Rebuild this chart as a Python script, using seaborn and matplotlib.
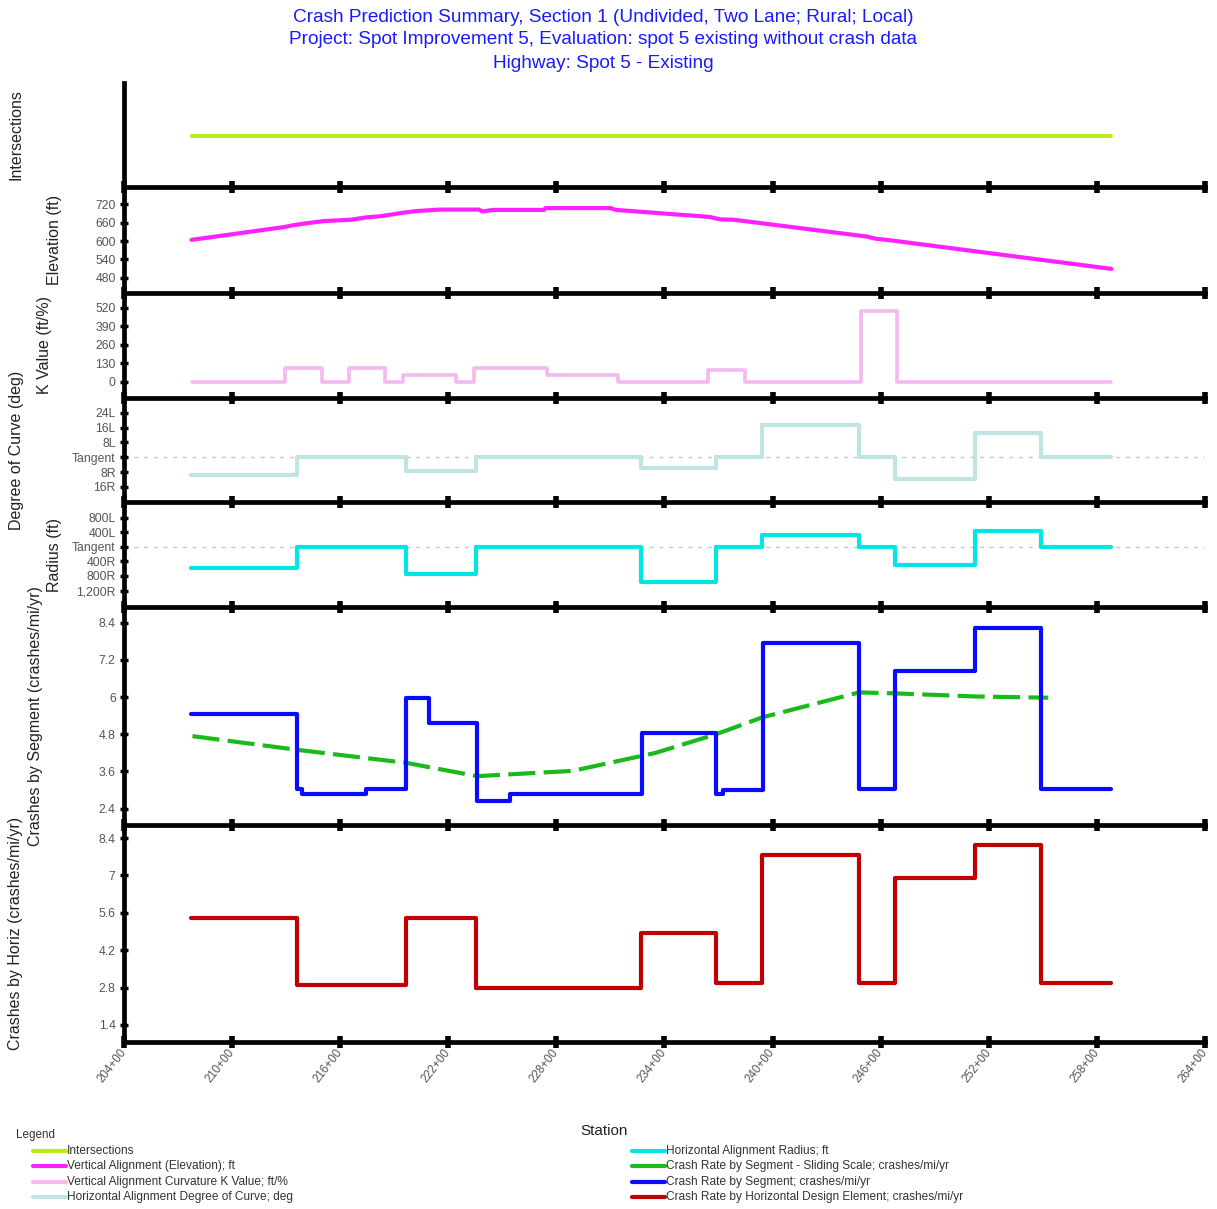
import matplotlib
matplotlib.use("Agg")
import pandas as pd
import seaborn as sns
from matplotlib import pyplot as plt
from matplotlib.lines import Line2D

# data (stations in hundreds of feet)
station_ticks = [204, 210, 216, 222, 228, 234, 240, 246, 252, 258, 264]

inter_sta = [207.75, 258.8]
inter_val = [0, 0]

elev_sta = [207.75, 212.9, 213.4, 214.1, 215.0, 216.6, 217.5, 218.2, 219.5, 220.2,
            221.5, 223.7, 223.9, 224.5, 227.3, 227.4, 231.0, 231.3, 236.5, 237.1,
            237.8, 238.5, 245.2, 245.7, 246.6, 258.8]
elev_val = [604, 646, 652, 658, 665, 670, 678, 681, 693, 698,
            703, 703, 697, 702, 702, 708, 708, 702, 679, 671,
            670, 665, 615, 608, 602, 509]

k_sta = [207.75, 212.93, 215.0, 216.48, 218.48, 219.5, 222.45, 223.43, 227.48,
         231.42, 236.44, 238.48, 244.9, 246.93, 258.8]
k_val = [0, 98, 0, 98, 0, 45, 0, 98, 50, 0, 85, 0, 500, 0]

horiz_sta = [207.7, 213.6, 219.65, 223.55, 232.7, 236.85, 239.4, 244.8, 246.8,
             251.25, 254.9, 258.8]
degree_val = [-9.6, 0, -7.5, 0, -5.9, 0, 17.4, 0, -11.9, 13.3, 0]
radius_val = [-590, 0, -750, 0, -970, 0, 310, 0, -490, 440, 0]
horiz_rate = [5.42, 2.9, 5.42, 2.79, 4.83, 2.98, 7.75, 2.98, 6.89, 8.15, 2.98]

seg_sta = [207.7, 213.6, 213.9, 217.45, 219.65, 220.95, 223.6, 225.45, 232.75,
           236.85, 237.25, 239.45, 244.8, 246.8, 251.25, 254.9, 258.8]
seg_rate = [5.45, 3.02, 2.86, 3.02, 5.96, 5.17, 2.64, 2.86, 4.85,
            2.86, 3.0, 7.76, 3.02, 6.83, 8.22, 3.02]

slide_sta = [207.8, 213.6, 219.65, 223.6, 228.9, 233.5, 236.85, 239.45, 244.8,
             246.8, 251.25, 255.3]
slide_rate = [4.74, 4.3, 3.88, 3.45, 3.62, 4.2, 4.8, 5.35, 6.15, 6.12, 6.02, 5.98]


def steps(sta, vals):
    return pd.DataFrame({"x": sta, "y": list(vals) + [vals[-1]]})


sns.set_style("white")
plt.rcParams["font.family"] = ["Liberation Sans", "DejaVu Sans"]

W, H = 1217, 1209
fig = plt.figure(figsize=(W / 100, H / 100), dpi=100)
gs = fig.add_gridspec(7, 1, height_ratios=[104, 106, 105, 104, 105, 218, 217], hspace=0,
                      left=124 / W, right=1205 / W, top=1 - 83 / H, bottom=1 - 1042 / H)
axes = [fig.add_subplot(gs[i]) for i in range(7)]

LW = 3
line_kw = dict(estimator=None, sort=False, linewidth=LW)

# intersections
sns.lineplot(data=pd.DataFrame({"x": inter_sta, "y": inter_val}), x="x", y="y",
             ax=axes[0], color="#bdea1c", **line_kw)
axes[0].set_ylim(-0.98, 1.02)
axes[0].set_yticks([])

# elevation
sns.lineplot(data=pd.DataFrame({"x": elev_sta, "y": elev_val}), x="x", y="y",
             ax=axes[1], color="#ff20ff", **line_kw)
axes[1].set_ylim(430, 777)
axes[1].set_yticks([480, 540, 600, 660, 720])

# K value
sns.lineplot(data=steps(k_sta, k_val), x="x", y="y", ax=axes[2], color="#f5b9f0",
             drawstyle="steps-post", estimator=None, sort=False, linewidth=2.6)
axes[2].set_ylim(-115, 623)
axes[2].set_yticks([0, 130, 260, 390, 520])

# degree of curve
axes[3].axhline(0, color="#c8c8c8", lw=1, ls=(0, (3, 4)), zorder=0)
sns.lineplot(data=steps(horiz_sta, degree_val), x="x", y="y", ax=axes[3], color="#bfe4e2",
             drawstyle="steps-post", **line_kw)
axes[3].set_ylim(-24.1, 31.9)
axes[3].set_yticks([-16, -8, 0, 8, 16, 24])
axes[3].set_yticklabels(["16R", "8R", "Tangent", "8L", "16L", "24L"])

# radius
axes[4].axhline(0, color="#c8c8c8", lw=1, ls=(0, (3, 4)), zorder=0)
sns.lineplot(data=steps(horiz_sta, radius_val), x="x", y="y", ax=axes[4], color="#00e5e5",
             drawstyle="steps-post", **line_kw)
axes[4].set_ylim(-1652, 1225)
axes[4].set_yticks([-1200, -800, -400, 0, 400, 800])
axes[4].set_yticklabels(["1,200R", "800R", "400R", "Tangent", "400L", "800L"])

# crashes by segment
sns.lineplot(data=pd.DataFrame({"x": slide_sta, "y": slide_rate}), x="x", y="y",
             ax=axes[5], color="#1aba1a", linestyle=(0, (6.5, 2)), **line_kw)
sns.lineplot(data=steps(seg_sta, seg_rate), x="x", y="y", ax=axes[5], color="#0a0aff",
             drawstyle="steps-post", **line_kw)
axes[5].set_ylim(1.874, 8.906)
axes[5].set_yticks([2.4, 3.6, 4.8, 6, 7.2, 8.4])
axes[5].set_yticklabels(["2.4", "3.6", "4.8", "6", "7.2", "8.4"])

# crashes by horizontal element
sns.lineplot(data=steps(horiz_sta, horiz_rate), x="x", y="y", ax=axes[6], color="#c00000",
             drawstyle="steps-post", **line_kw)
axes[6].set_ylim(0.76, 8.89)
axes[6].set_yticks([1.4, 2.8, 4.2, 5.6, 7, 8.4])
axes[6].set_yticklabels(["1.4", "2.8", "4.2", "5.6", "7", "8.4"])

ylabels = ["Intersections", "Elevation (ft)", "K Value (ft/%)", "Degree of Curve (deg)",
           "Radius (ft)", "Crashes by Segment (crashes/mi/yr)", "Crashes by Horiz (crashes/mi/yr)"]
label_right = [24, 62, 52, 24, 62, 43, 23]

for i, ax in enumerate(axes):
    ax.patch.set_visible(False)
    ax.set_xlim(204, 264)
    ax.set_xticks(station_ticks)
    for s in ["top", "right"]:
        ax.spines[s].set_visible(False)
    for s in ["left", "bottom"]:
        ax.spines[s].set_linewidth(3.4)
        ax.spines[s].set_color("black")
        ax.spines[s].set_zorder(5)
    ax.tick_params(axis="x", bottom=True, direction="inout", length=8, width=4, color="black",
                   labelbottom=(i == 6), pad=2)
    ax.tick_params(axis="y", left=True, direction="inout", length=6, width=2.5, color="black",
                   labelsize=8.8, labelcolor="#555555", pad=3)
    ax.set_xlabel("")
    ax.set_ylabel(ylabels[i], fontsize=11.5, color="#222222")
    ax.yaxis.set_label_coords((label_right[i] - 124) / 1081, 0.5)

axes[6].set_xticklabels([f"{s}+00" for s in station_ticks], rotation=52, ha="right",
                        va="center", rotation_mode="anchor", fontsize=8.3, color="#555555")

title_lines = ["Crash Prediction Summary, Section 1 (Undivided, Two Lane; Rural; Local)",
               "Project: Spot Improvement 5, Evaluation: spot 5 existing without crash data",
               "Highway: Spot 5 - Existing"]
for y, t in zip([17, 40, 64], title_lines):
    fig.text(603 / W, 1 - y / H, t, ha="center", va="center", fontsize=13.7, color="#1a1aff")

fig.text(604 / W, 1 - 1131 / H, "Station", ha="center", va="center", fontsize=11,
         color="#222222")

# legend
fig.text(16 / W, 1 - 1135 / H, "Legend", ha="left", va="center", fontsize=8.4, color="#333333")
legend_items = [
    ("Intersections", "#bdea1c", 33, 1151),
    ("Vertical Alignment (Elevation); ft", "#ff20ff", 33, 1166),
    ("Vertical Alignment Curvature K Value; ft/%", "#f5b9f0", 33, 1182),
    ("Horizontal Alignment Degree of Curve; deg", "#bfe4e2", 33, 1197),
    ("Horizontal Alignment Radius; ft", "#00e5e5", 632, 1151),
    ("Crash Rate by Segment - Sliding Scale; crashes/mi/yr", "#1aba1a", 632, 1166),
    ("Crash Rate by Segment; crashes/mi/yr", "#0a0aff", 632, 1182),
    ("Crash Rate by Horizontal Design Element; crashes/mi/yr", "#c00000", 632, 1197),
]
for text, col, x0, y in legend_items:
    fig.add_artist(Line2D([x0 / W, (x0 + 33) / W], [1 - y / H, 1 - y / H],
                          transform=fig.transFigure, color=col, lw=3))
    fig.text((x0 + 34) / W, 1 - y / H, text, ha="left", va="center", fontsize=8.6,
             color="#333333")

fig.savefig("out.png", dpi=100)
